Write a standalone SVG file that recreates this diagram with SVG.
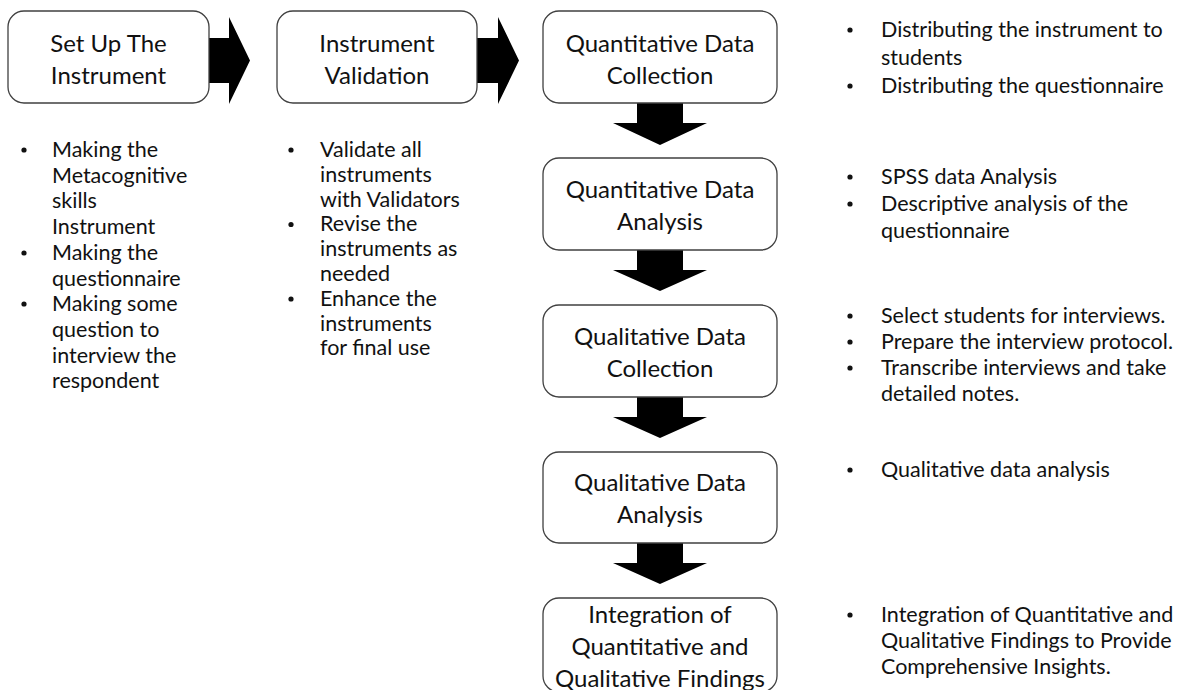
<svg xmlns="http://www.w3.org/2000/svg" width="1183" height="690" viewBox="0 0 1183 690">
  <style>
    .box { fill: #ffffff; stroke: #404040; stroke-width: 1.3; }
    .title { font-family: Lato, "Liberation Sans", sans-serif; font-size: 24px; fill: #111111; text-anchor: middle; }
    .item { font-family: Lato, "Liberation Sans", sans-serif; font-size: 21.5px; fill: #111111; }
    .dot { fill: #111111; }
    .arrow { fill: #000000; }
  </style>
  <rect width="1183" height="690" fill="#ffffff"/>

  <!-- block arrows between stages -->
  <g id="connectors">
    <polygon class="arrow" points="209,38 229,38 229,17 250,60.5 229,104 229,83 209,83"/>
    <polygon class="arrow" points="477,38 498,38 498,17 519,60.5 498,104 498,83 477,83"/>
    <polygon class="arrow" points="637,103 683,103 683,123 707,123 660,145 613,123 637,123"/>
    <polygon class="arrow" points="637,250 683,250 683,270 707,270 660,291 613,270 637,270"/>
    <polygon class="arrow" points="637,397 683,397 683,417 707,417 660,438 613,417 637,417"/>
    <polygon class="arrow" points="637,543 683,543 683,563 707,563 660,584 613,563 637,563"/>
  </g>

  <g id="setup">
    <rect class="box" x="8" y="11" width="201" height="92" rx="16"/>
    <text class="title" x="108.5" y="52">Set Up The</text>
    <text class="title" x="108.5" y="84">Instrument</text>
    <circle class="dot" cx="24" cy="150" r="2.6"/>
    <circle class="dot" cx="24" cy="253" r="2.6"/>
    <circle class="dot" cx="24" cy="304" r="2.6"/>
    <g class="item">
      <text x="52" y="157">Making the</text>
      <text x="52" y="182.7">Metacognitive</text>
      <text x="52" y="208.4">skills</text>
      <text x="52" y="234.1">Instrument</text>
      <text x="52" y="259.8">Making the</text>
      <text x="52" y="285.5">questionnaire</text>
      <text x="52" y="311.2">Making some</text>
      <text x="52" y="336.9">question to</text>
      <text x="52" y="362.6">interview the</text>
      <text x="52" y="388.3">respondent</text>
    </g>
  </g>

  <g id="validation">
    <rect class="box" x="277" y="11" width="200" height="92" rx="16"/>
    <text class="title" x="377" y="52">Instrument</text>
    <text class="title" x="377" y="84">Validation</text>
    <circle class="dot" cx="291" cy="150" r="2.6"/>
    <circle class="dot" cx="291" cy="224.5" r="2.6"/>
    <circle class="dot" cx="291" cy="299" r="2.6"/>
    <g class="item">
      <text x="320" y="157">Validate all</text>
      <text x="320" y="181.8">instruments</text>
      <text x="320" y="206.6">with Validators</text>
      <text x="320" y="231.4">Revise the</text>
      <text x="320" y="256.2">instruments as</text>
      <text x="320" y="281">needed</text>
      <text x="320" y="305.8">Enhance the</text>
      <text x="320" y="330.6">instruments</text>
      <text x="320" y="355.4">for final use</text>
    </g>
  </g>

  <g id="quant-collection">
    <rect class="box" x="543" y="11" width="234" height="92" rx="16"/>
    <text class="title" x="660" y="52">Quantitative Data</text>
    <text class="title" x="660" y="84">Collection</text>
    <circle class="dot" cx="850" cy="30" r="2.6"/>
    <circle class="dot" cx="850" cy="86" r="2.6"/>
    <g class="item">
      <text x="881" y="37">Distributing the instrument to</text>
      <text x="881" y="65">students</text>
      <text x="881" y="93">Distributing the questionnaire</text>
    </g>
  </g>

  <g id="quant-analysis">
    <rect class="box" x="543" y="158" width="234" height="92" rx="16"/>
    <text class="title" x="660" y="198">Quantitative Data</text>
    <text class="title" x="660" y="230">Analysis</text>
    <circle class="dot" cx="850" cy="177" r="2.6"/>
    <circle class="dot" cx="850" cy="204" r="2.6"/>
    <g class="item">
      <text x="881" y="184">SPSS data Analysis</text>
      <text x="881" y="211">Descriptive analysis of the</text>
      <text x="881" y="238">questionnaire</text>
    </g>
  </g>

  <g id="qual-collection">
    <rect class="box" x="543" y="305" width="234" height="92" rx="16"/>
    <text class="title" x="660" y="345">Qualitative Data</text>
    <text class="title" x="660" y="377">Collection</text>
    <circle class="dot" cx="850" cy="316" r="2.6"/>
    <circle class="dot" cx="850" cy="342" r="2.6"/>
    <circle class="dot" cx="850" cy="368" r="2.6"/>
    <g class="item">
      <text x="881" y="323">Select students for interviews.</text>
      <text x="881" y="349">Prepare the interview protocol.</text>
      <text x="881" y="375">Transcribe interviews and take</text>
      <text x="881" y="401">detailed notes.</text>
    </g>
  </g>

  <g id="qual-analysis">
    <rect class="box" x="543" y="452" width="234" height="91" rx="16"/>
    <text class="title" x="660" y="491">Qualitative Data</text>
    <text class="title" x="660" y="523">Analysis</text>
    <circle class="dot" cx="850" cy="470" r="2.6"/>
    <g class="item">
      <text x="881" y="477">Qualitative data analysis</text>
    </g>
  </g>

  <g id="integration">
    <rect class="box" x="543" y="598" width="234" height="94" rx="16"/>
    <text class="title" x="660" y="623">Integration of</text>
    <text class="title" x="660" y="655">Quantitative and</text>
    <text class="title" x="660" y="687">Qualitative Findings</text>
    <circle class="dot" cx="850" cy="615" r="2.6"/>
    <g class="item">
      <text x="881" y="622">Integration of Quantitative and</text>
      <text x="881" y="648">Qualitative Findings to Provide</text>
      <text x="881" y="674">Comprehensive Insights.</text>
    </g>
  </g>
</svg>
